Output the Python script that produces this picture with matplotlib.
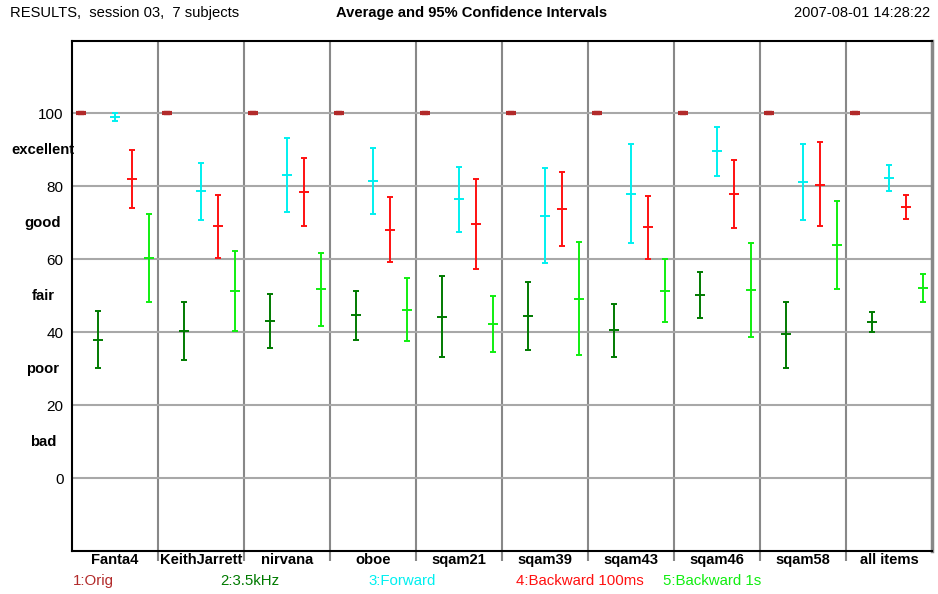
import matplotlib.pyplot as plt
import numpy as np
from matplotlib.ticker import FixedLocator

plt.rcParams['font.family'] = ['Liberation Sans', 'DejaVu Sans']

# Test items and conditions
items = ['Fanta4', 'KeithJarrett', 'nirvana', 'oboe', 'sqam21', 'sqam39',
         'sqam43', 'sqam46', 'sqam58', 'all items']
conditions = ['1:Orig', '2:3.5kHz', '3:Forward', '4:Backward 100ms', '5:Backward 1s']
colors = ['#b22a2a', '#007a00', '#00f0f0', '#ff1010', '#10ee10']

# mean scores and 95% confidence bounds, one list per condition
orig_mean = [100, 100, 100, 100, 100, 100, 100, 100, 100, 100]
orig_lo = [100, 100, 100, 100, 100, 100, 100, 100, 100, 100]
orig_hi = [100, 100, 100, 100, 100, 100, 100, 100, 100, 100]

lp_mean = [38.0, 40.4, 43.1, 44.7, 44.2, 44.4, 40.5, 50.2, 39.4, 42.8]
lp_lo = [30.2, 32.5, 35.7, 37.9, 33.2, 35.1, 33.2, 43.8, 30.3, 40.1]
lp_hi = [45.8, 48.4, 50.5, 51.3, 55.3, 53.9, 47.7, 56.5, 48.4, 45.6]

fwd_mean = [99.0, 78.6, 83.0, 81.5, 76.4, 72.0, 78.0, 89.6, 81.2, 82.2]
fwd_lo = [97.9, 70.7, 72.9, 72.4, 67.5, 58.9, 64.4, 82.9, 70.8, 78.7]
fwd_hi = [100.2, 86.4, 93.2, 90.5, 85.4, 85.1, 91.7, 96.3, 91.7, 85.8]

b100_mean = [82.1, 69.0, 78.4, 68.1, 69.6, 73.8, 68.8, 77.9, 80.5, 74.3]
b100_lo = [74.2, 60.4, 69.1, 59.3, 57.3, 63.6, 60.0, 68.6, 69.0, 71.0]
b100_hi = [90.0, 77.6, 87.8, 77.1, 81.9, 84.0, 77.4, 87.1, 92.3, 77.6]

b1s_mean = [60.4, 51.3, 51.8, 46.2, 42.3, 49.1, 51.3, 51.6, 63.8, 52.1]
b1s_lo = [48.4, 40.2, 41.8, 37.5, 34.7, 33.7, 42.7, 38.8, 51.8, 48.2]
b1s_hi = [72.4, 62.3, 61.6, 54.9, 50.0, 64.7, 60.0, 64.4, 75.9, 56.0]

means = [orig_mean, lp_mean, fwd_mean, b100_mean, b1s_mean]
lows = [orig_lo, lp_lo, fwd_lo, b100_lo, b1s_lo]
highs = [orig_hi, lp_hi, fwd_hi, b100_hi, b1s_hi]

grade_values = [10, 30, 50, 70, 90]
grade_names = ['bad', 'poor', 'fair', 'good', 'excellent']

fig = plt.figure(figsize=(9.38, 5.94), dpi=100)
ax = fig.add_axes([72 / 938, 1 - 551 / 594, 860 / 938, 510.5 / 594])

n_items = len(items)
n_cond = len(conditions)
for j in range(n_cond):
    x = np.arange(n_items) + (j + 0.5) / n_cond
    m = np.array(means[j])
    yerr = [m - np.array(lows[j]), np.array(highs[j]) - m]
    lw = 3 if j == 0 else 1.4
    ax.errorbar(x, m, yerr=yerr, fmt='_', color=colors[j], ecolor=colors[j],
                markersize=6.5 if j == 0 else 6.5, mew=lw, elinewidth=1.4,
                capsize=2, capthick=1.4, zorder=3)

ax.set_xlim(0, n_items)
ax.set_ylim(-20, 120)

# y axis: numbers plus grade words
ax.set_yticks([0, 20, 40, 60, 80, 100])
ax.tick_params(axis='y', length=0, pad=6, labelsize=11)
for v, name in zip(grade_values, grade_names):
    ax.text(-0.034, v, name, transform=ax.get_yaxis_transform(), ha='center',
            va='center', fontsize=10.7, fontweight='bold')

# x axis: item names centred in cells, separators as gray lines
ax.set_xticks(np.arange(n_items) + 0.5)
ax.set_xticklabels(items, fontsize=10.6, fontweight='bold')
ax.tick_params(axis='x', which='major', length=0, pad=1.5)
ax.xaxis.set_minor_locator(FixedLocator(np.arange(1, n_items)))
ax.tick_params(axis='x', which='minor', length=7, width=1.5, color='#888888')

ax.grid(axis='y', which='major', color='#a8a8a8', linewidth=1.5, zorder=1)
ax.grid(axis='x', which='minor', color='#888888', linewidth=1.5, zorder=1)
ax.set_axisbelow(True)

for side in ['left', 'top', 'bottom']:
    ax.spines[side].set_color('black')
    ax.spines[side].set_linewidth(1.5)
ax.spines['right'].set_color('#888888')
ax.spines['right'].set_linewidth(2.5)

# header line
fig.text(10 / 938, 1 - 13 / 594, 'RESULTS,  session 03,  7 subjects',
         fontsize=10.6, va='center', ha='left')
fig.text(472 / 938, 1 - 13 / 594, 'Average and 95% Confidence Intervals',
         fontsize=10.6, va='center', ha='center', fontweight='bold')
fig.text(930 / 938, 1 - 13 / 594, '2007-08-01 14:28:22',
         fontsize=10.5, va='center', ha='right')

# condition legend under the axis
legend_x = [73, 220, 368, 516, 663]
for lx, name, c in zip(legend_x, conditions, colors):
    fig.text(lx / 938, 1 - 581 / 594, name, color=c, fontsize=10.8,
             va='center', ha='left')

fig.savefig('out.png', dpi=100)
